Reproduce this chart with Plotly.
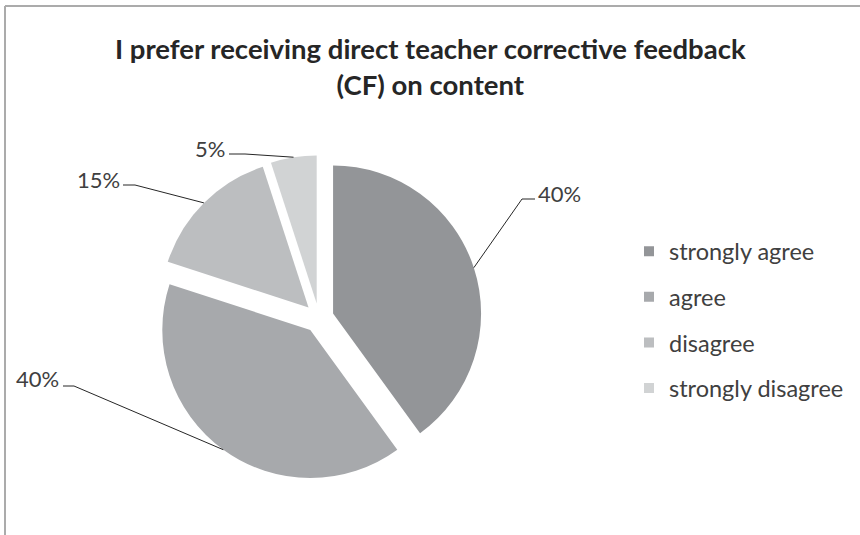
import math
import plotly.graph_objects as go

# Survey responses
categories = ["strongly agree", "agree", "disagree", "strongly disagree"]
shares = [40, 40, 15, 5]
slice_colors = ["#939598", "#a7a9ac", "#bcbec0", "#d1d3d4"]
title_text = "I prefer receiving direct teacher corrective feedback<br>(CF) on content"

W, H = 860, 535
PULL = 0.10

# Pie placement (pixels): centre and radius
CX, CY, R = 319, 318, 148
box = R * (2 + 2 * PULL)
dom_x = [(CX - box / 2) / W, (CX + box / 2) / W]
dom_y = [(H - CY - box / 2) / H, (H - CY + box / 2) / H]

# Label text anchors and elbow points of the leader lines (pixels)
label_pos = [(536, 193), (14, 378), (75, 179), (193, 148)]
elbow_start = [(535, 199), (63, 386), (123, 185), (229, 154)]
elbow_mid = [(522, 199), (74, 386), (135, 185), (245, 154)]

FONT = "Lato, 'Open Sans', sans-serif"
TEXT = "#404040"


def px(x, y):
    return x / W, 1 - y / H


fig = go.Figure()
fig.add_trace(go.Pie(
    labels=categories,
    values=shares,
    marker=dict(colors=slice_colors, line=dict(width=0)),
    sort=False,
    direction="clockwise",
    rotation=0,
    pull=[PULL] * len(shares),
    textinfo="none",
    hoverinfo="label+percent",
    domain=dict(x=dom_x, y=dom_y),
    showlegend=False,
))

# Legend entries
for name, col in zip(categories, slice_colors):
    fig.add_trace(go.Scatter(
        x=[None], y=[None], mode="markers", name=name, legendgroup=name,
        marker=dict(symbol="square", size=10, color=col),
    ))

shapes = []
annotations = []
total = sum(shares)
cum = 0
for i, v in enumerate(shares):
    mid = (cum + v / 2) / total * 2 * math.pi
    cum += v
    ux, uy = math.sin(mid), -math.cos(mid)
    ax = CX + (R * PULL + R) * ux
    ay = CY + (R * PULL + R) * uy
    s0 = px(*elbow_start[i])
    s1 = px(*elbow_mid[i])
    e = px(ax, ay)
    shapes.append(dict(
        type="path", xref="paper", yref="paper",
        path=f"M {s0[0]} {s0[1]} L {s1[0]} {s1[1]} L {e[0]} {e[1]}",
        line=dict(color="#262626", width=1),
    ))
    lx, ly = px(*label_pos[i])
    annotations.append(dict(
        x=lx, y=ly, xref="paper", yref="paper", text=f"{v}%",
        showarrow=False, xanchor="left", yanchor="middle",
        font=dict(family=FONT, size=22, color=TEXT),
    ))

# Chart title
tx, ty = px(W / 2, 67)
annotations.append(dict(
    x=tx, y=ty, xref="paper", yref="paper", text=f"<b>{title_text}</b>",
    showarrow=False, xanchor="center", yanchor="middle", align="center",
    font=dict(family=FONT, size=27.5, color="#262626"),
))

# Chart frame (top and left edges)
shapes.append(dict(type="line", xref="paper", yref="paper",
                   x0=5 / W, y0=1 - 6 / H, x1=1, y1=1 - 6 / H,
                   line=dict(color="#ababab", width=2)))
shapes.append(dict(type="line", xref="paper", yref="paper",
                   x0=5 / W, y0=1 - 6 / H, x1=5 / W, y1=0,
                   line=dict(color="#ababab", width=2)))

fig.update_layout(
    width=W, height=H,
    margin=dict(l=0, r=0, t=0, b=0),
    paper_bgcolor="white", plot_bgcolor="white",
    xaxis=dict(visible=False), yaxis=dict(visible=False),
    legend=dict(x=629 / W, xanchor="left", y=1 - 320 / H, yanchor="middle",
                font=dict(family=FONT, size=23.5, color=TEXT),
                tracegroupgap=12, itemsizing="trace", bgcolor="rgba(0,0,0,0)"),
    shapes=shapes,
    annotations=annotations,
)

fig.write_html("out.html")
